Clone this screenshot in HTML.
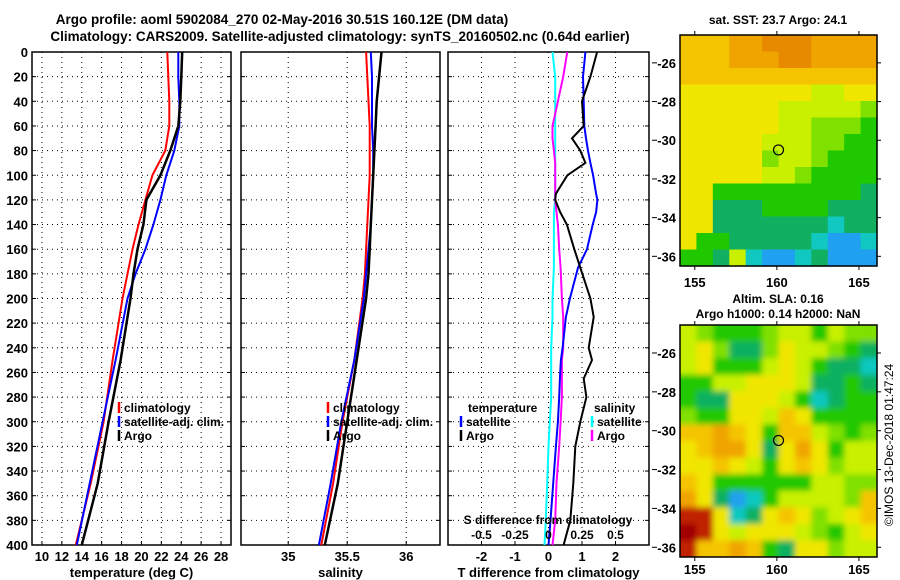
<!DOCTYPE html>
<html><head><meta charset="utf-8"><style>
body{margin:0;background:#fff;}
svg{display:block;font-family:"Liberation Sans",sans-serif;font-weight:bold;}
</style></head><body>
<svg id="c" width="900" height="580" viewBox="0 0 900 580">
<defs>
<filter id="blur" x="-5%" y="-5%" width="110%" height="110%"><feGaussianBlur stdDeviation="3"/></filter>
<clipPath id="clip2"><rect x="680" y="325" width="197" height="232"/></clipPath>
</defs>
</svg>
<script>
const depths=[0,20,40,60,80,100,120,140,160,180,200,250,300,350,400];
const tClim=[22.6,22.7,22.8,22.8,22.4,21.1,20.4,19.7,19.1,18.6,18.1,17.1,16.2,14.9,13.4];
const tSat=[23.7,23.7,23.8,23.8,23.3,22.5,21.9,21.2,20.4,19.4,18.6,17.4,16.1,14.8,13.5];
const tArgo=[24.1,24.0,23.9,23.7,22.9,21.9,20.5,20.2,19.6,19.2,18.9,17.9,16.7,15.6,14.0];
const sClim=[35.66,35.67,35.68,35.69,35.69,35.69,35.68,35.67,35.66,35.65,35.63,35.56,35.46,35.38,35.28];
const sSat=[35.70,35.71,35.71,35.71,35.72,35.72,35.71,35.70,35.68,35.66,35.64,35.56,35.45,35.36,35.26];
const sArgo=[35.79,35.77,35.75,35.74,35.73,35.72,35.71,35.70,35.69,35.68,35.66,35.58,35.50,35.42,35.31];
const dDepths=[0,20,40,60,70,80,90,100,115,120,130,140,160,175,200,215,240,250,265,280,300,320,350,380,400];
const dtSat=[1.10,1.03,1.05,1.07,1.12,1.18,1.25,1.33,1.42,1.46,1.42,1.32,1.15,0.88,0.64,0.52,0.42,0.37,0.34,0.32,0.28,0.22,0.14,0.06,0.0];
const dtArgo=[1.45,1.25,1.00,1.05,0.70,0.95,1.10,0.56,0.22,0.20,0.35,0.55,0.77,0.95,1.25,1.35,1.2,1.3,1.05,1.13,0.95,0.80,0.74,0.65,0.45];
const dsSat=[0.03,0.05,0.05,0.05,0.05,0.05,0.05,0.05,0.05,0.05,0.04,0.04,0.04,0.04,0.03,0.03,0.02,0.02,0.02,0.02,0.01,0.0,-0.01,-0.02,-0.03];
const dsArgo=[0.14,0.11,0.07,0.03,0.03,0.04,0.05,0.05,0.05,0.05,0.06,0.07,0.08,0.09,0.10,0.11,0.11,0.10,0.10,0.10,0.09,0.08,0.06,0.05,0.03];
const tTicks=[10,12,14,16,18,20,22,24,26,28];
const sTicks=[35,35.5,36];
const dTicks=[-2,-1,0,1,2];
const dsTicks=[-0.5,-0.25,0,0.25,0.5];
const depthTicks=[0,20,40,60,80,100,120,140,160,180,200,220,240,260,280,300,320,340,360,380,400];
const palette=['#e88a00','#f0a400','#f5c400','#f0e600','#c8f000','#80e000','#20c800','#10b060','#10c8c0','#20a0f0','#c02000','#a00000'];
const sstGrid=[
"222110001111","222111001111","222222222222","333333334433","333333444445","333333445556",
"333334445566","333335445666","333334456666","336666666667","337776666777","337777777877",
"366777778998","667489987999"];
const slaGrid=[
"456665446455","435775344567","436664346778","664433347767","677333468766","566334236666",
"221236224565","321137313644","332346323544","236666664455","137986444452","AA3873235432",
"BA3433345643","A22126733544"];
const lonTicks=[155,160,165];
const latTicks=[-26,-28,-30,-32,-34,-36];
const floatLon=160.1, floatLat=-30.5;

const svg=document.getElementById('c');const NS='http://www.w3.org/2000/svg';
function el(t,a,p){const e=document.createElementNS(NS,t);for(const k in a)e.setAttribute(k,a[k]);(p||svg).appendChild(e);return e;}
function txt(x,y,s,anchor,size,p){const e=el('text',{x:x,y:y,'text-anchor':anchor||'middle','font-size':size||13,fill:'#000'},p);e.textContent=s;return e;}
const top0=52,bot=545;
const yD=d=>top0+(bot-top0)*d/400;
function panel(name,x0,x1,vmin,vmax,ticks,labelFmt,title){
  const g=el('g',{});
  const xs=v=>x0+(x1-x0)*(v-vmin)/(vmax-vmin);
  depthTicks.forEach(d=>{if(d>0&&d<400)el('line',{x1:x0,x2:x1,y1:yD(d),y2:yD(d),stroke:'#000','stroke-dasharray':'1 4'},g);
    el('line',{x1:x0,x2:x0+4,y1:yD(d),y2:yD(d),stroke:'#000'},g);el('line',{x1:x1-4,x2:x1,y1:yD(d),y2:yD(d),stroke:'#000'},g);});
  ticks.forEach(v=>{el('line',{x1:xs(v),x2:xs(v),y1:top0,y2:bot,stroke:'#000','stroke-dasharray':'1 4'},g);
    el('line',{x1:xs(v),x2:xs(v),y1:bot-4,y2:bot,stroke:'#000'},g);
    const t=txt(xs(v),561,labelFmt(v),'middle',13,g);});
  el('rect',{x:x0,y:top0,width:x1-x0,height:bot-top0,fill:'none',stroke:'#000','stroke-width':1.5},g);
  const t=txt((x0+x1)/2,577,title,'middle',13,g);
  return {g,xs};
}
function line(p,xs,dep,vals,col,name,w){
  const pts=vals.map((v,i)=>xs(v).toFixed(1)+','+yD(dep[i]).toFixed(1)).join(' ');
  const e=el('polyline',{points:pts,fill:'none',stroke:col,'stroke-width':w||2},p);
  
}
function legend(p,x,y,col,label){el('line',{x1:x,x2:x,y1:y-10,y2:y+1,stroke:col,'stroke-width':2.5},p);
  const t=txt(x+5,y,label,'start',12,p);}

const P1=panel('temperature-panel',32,231,9,29,tTicks,v=>String(v),'temperature (deg C)');
depthTicks.forEach(d=>{const t=txt(28,yD(d)+5,String(d),'end',13);});
line(P1.g,P1.xs,depths,tClim,'#f00','climatology-temp-line');
line(P1.g,P1.xs,depths,tSat,'#00f','satellite-temp-line');
line(P1.g,P1.xs,depths,tArgo,'#000','argo-temp-line',2.5);
legend(P1.g,119,412,'#f00','climatology');legend(P1.g,119,426,'#00f','satellite-adj. clim.');legend(P1.g,119,440,'#000','Argo');

const P2=panel('salinity-panel',241,440,34.6,36.286,sTicks,v=>String(v),'salinity');
line(P2.g,P2.xs,depths,sClim,'#f00','climatology-sal-line');
line(P2.g,P2.xs,depths,sSat,'#00f','satellite-sal-line');
line(P2.g,P2.xs,depths,sArgo,'#000','argo-sal-line',2.5);
legend(P2.g,328,412,'#f00','climatology');legend(P2.g,328,426,'#00f','satellite-adj. clim.');legend(P2.g,328,440,'#000','Argo');

const P3=panel('difference-panel',448,649,-3,3,dTicks,v=>String(v),'T difference from climatology');
const xsS=v=>448+(649-448)*(v+0.75)/1.5;
line(P3.g,xsS,dDepths,dsSat,'#0ff','sal-satellite-diff-line');
line(P3.g,xsS,dDepths,dsArgo,'#f0f','sal-argo-diff-line');
line(P3.g,P3.xs,dDepths,dtSat,'#00f','temp-satellite-diff-line');
line(P3.g,P3.xs,dDepths,dtArgo,'#000','temp-argo-diff-line');
txt(468,412,'temperature','start',12,P3.g);txt(594,412,'salinity','start',12,P3.g);
legend(P3.g,461,426,'#00f','satellite');legend(P3.g,461,440,'#000','Argo');
legend(P3.g,592,426,'#0ff','satellite');legend(P3.g,592,440,'#f0f','Argo');
{const t=txt(548,524,'S difference from climatology','middle',12,P3.g);}
dsTicks.forEach(v=>{const t=txt(xsS(v),539,String(v),'middle',12,P3.g);});

const t1=txt(282,24,'Argo profile: aoml 5902084_270 02-May-2016 30.51S 160.12E (DM data)','middle',13.5);

const t2=txt(340,41,'Climatology: CARS2009. Satellite-adjusted climatology: synTS_20160502.nc (0.64d earlier)','middle',13.5);


function map(name,y0,y1,grid,labelY,smooth){
  const g=el('g',{});
  const x0=680,x1=877,lon0=154.1,lon1=166.1,lat0=-24.56,lat1=-36.5;
  const xs=v=>x0+(x1-x0)*(v-lon0)/(lon1-lon0), ys=v=>y0+(y1-y0)*(v-lat0)/(lat1-lat0);
  const rows=grid.length,cols=grid[0].length,cw=(x1-x0)/cols,ch=(y1-y0)/rows;
  let cg=g;
  if(smooth){const outer=el('g',{'clip-path':'url(#clip2)'},g);cg=el('g',{filter:'url(#blur)'},outer);}
  grid.forEach((r,i)=>{for(let j=0;j<cols;j++){
    let ex=smooth?8:0;
    const c=el('rect',{x:x0+j*cw-(j==0?ex:0),y:y0+i*ch-(i==0?ex:0),width:cw+0.6+(j==0||j==cols-1?ex:0),height:ch+0.6+(i==0||i==rows-1?ex:0),fill:palette[parseInt(r[j],16)]},cg);
    }});
  el('rect',{x:x0,y:y0,width:x1-x0,height:y1-y0,fill:'none',stroke:'#000','stroke-width':1.5},g);
  lonTicks.forEach(v=>{el('line',{x1:xs(v),x2:xs(v),y1:y0-4,y2:y0,stroke:'#000'},g);el('line',{x1:xs(v),x2:xs(v),y1:y1,y2:y1+4,stroke:'#000'},g);
    const t=txt(xs(v),labelY,String(v),'middle',13,g);});
  latTicks.forEach(v=>{el('line',{x1:652,x2:657,y1:ys(v),y2:ys(v),stroke:'#000'},g);el('line',{x1:x1,x2:x1+4,y1:ys(v),y2:ys(v),stroke:'#000'},g);
    const t=txt(676,ys(v)+5,String(v),'end',13,g);});
  const m=el('circle',{cx:xs(floatLon),cy:ys(floatLat),r:5,fill:'none',stroke:'#000','stroke-width':1.2},g);
  
}
map('sst-map',35,266,sstGrid,287,false);
map('sla-map',325,557,slaGrid,574,true);
{const t=txt(778,24,'sat. SST: 23.7 Argo: 24.1','middle',12);}
{const t=txt(778,303,'Altim. SLA: 0.16','middle',12);}
{const t=txt(778,318,'Argo h1000: 0.14 h2000: NaN','middle',12);}
{const t=txt(0,0,'©IMOS 13-Dec-2018 01:47:24','middle',12);t.setAttribute('transform','translate(893,445) rotate(-90)');t.setAttribute('font-weight','normal');
 }
</script>
</body></html>
